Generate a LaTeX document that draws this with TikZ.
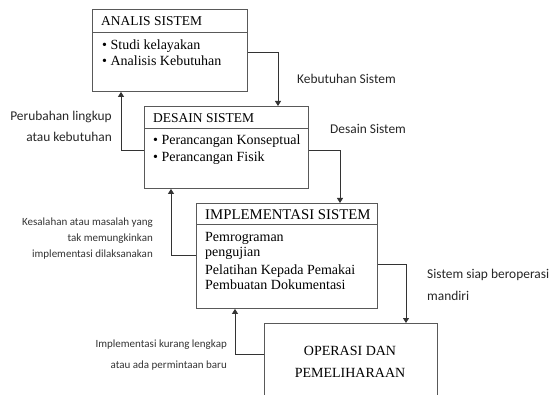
\documentclass[tikz,border=0pt]{standalone}
\usepackage{fontspec}
\setmainfont{Liberation Serif}
\newfontfamily\lblfont{Carlito}
\usetikzlibrary{arrows.meta}
\begin{document}
\begin{tikzpicture}[x=1pt,y=-1pt,
  box/.style={draw=black!65,line width=0.9pt,anchor=north west,inner sep=0pt},
  ttl/.style={anchor=base west,inner sep=0pt,font=\fontsize{13.5}{16}\selectfont},
  itm/.style={anchor=base west,inner sep=0pt,font=\fontsize{14}{16}\selectfont},
  lbl/.style={inner sep=0pt,font=\lblfont\fontsize{13.4}{21.5}\selectfont,text=black!85},
  slbl/.style={inner sep=0pt,font=\lblfont\fontsize{11}{16}\selectfont,text=black!80,align=right,anchor=base east},
  flow/.style={draw=black!80,line width=0.9pt,-{Triangle[width=6pt,length=5pt]}}]
\useasboundingbox (0,0) rectangle (551,395);
\clip (0,0) rectangle (551,395);
% boxes
\node[box,minimum width=155pt,minimum height=82pt] (b1) at (92,9) {};
\node[box,minimum width=164pt,minimum height=82pt] (b2) at (144,106) {};
\node[box,minimum width=181pt,minimum height=105pt] (b3) at (196,203) {};
\node[box,minimum width=173pt,minimum height=110pt] (b4) at (264,323) {};
% dividers
\coordinate (d1) at (0,32);
\coordinate (d2) at (0,128);
\coordinate (d3) at (0,224);
\draw[black!65,line width=0.9pt] (b1.west |- d1) -- (b1.east |- d1);
\draw[black!65,line width=0.9pt] (b2.west |- d2) -- (b2.east |- d2);
\draw[black!65,line width=0.9pt] (b3.west |- d3) -- (b3.east |- d3);
% box texts
\node[ttl] (t1) at (101,26) {ANALIS SISTEM};
\node[itm] (t1a) at (102,50) {\textbullet\ Studi kelayakan};
\node[itm] (t1b) at (102,66) {\textbullet\ Analisis Kebutuhan};
\node[ttl] (t2) at (153,123) {DESAIN SISTEM};
\node[itm] (t2a) at (153,145) {\textbullet\ Perancangan Konseptual};
\node[itm] (t2b) at (153,162) {\textbullet\ Perancangan Fisik};
\node[ttl,font=\fontsize{14.8}{16}\selectfont] (t3) at (205,220) {IMPLEMENTASI SISTEM};
\node[itm] (t3a) at (205,242) {Pemrograman};
\node[itm] (t3b) at (205,257) {pengujian};
\node[itm] (t3c) at (205,274) {Pelatihan Kepada Pemakai};
\node[itm] (t3d) at (205,289) {Pembuatan Dokumentasi};
\node[itm,anchor=base] (t4a) at (350,355) {OPERASI DAN};
\node[itm,anchor=base] (t4b) at (350,377) {PEMELIHARAAN};
% forward arrows
\coordinate (c1) at (278,52);
\coordinate (c2) at (340,150);
\coordinate (c3) at (406,264);
\draw[flow] (b1.east |- c1) -| (b2.north -| c1);
\draw[flow] (b2.east |- c2) -| (b3.north -| c2);
\draw[flow] (b3.east |- c3) -| (b4.north -| c3);
% feedback arrows
\coordinate (f1) at (121,150);
\coordinate (f2) at (171,255);
\coordinate (f3) at (235,354);
\draw[flow] (b2.west |- f1) -| (b1.south -| f1);
\draw[flow] (b3.west |- f2) -| (b2.south -| f2);
\draw[flow] (b4.west |- f3) -| (b3.south -| f3);
% labels (multi-line nodes: base = last line)
\node[lbl,anchor=base west] (l1) at (297,84) {Kebutuhan Sistem};
\node[lbl,anchor=base west] (l2) at (330,134) {Desain Sistem};
\node[lbl,anchor=base west,align=left] (l3) at (427,300) {Sistem siap beroperasi\\mandiri};
\node[lbl,anchor=base east,align=right] (l4) at (112,142) {Perubahan lingkup\\atau kebutuhan};
\node[slbl] (l5) at (153,258) {Kesalahan atau masalah yang\\tak memungkinkan\\implementasi dilaksanakan};
\node[slbl,font=\lblfont\fontsize{11}{21}\selectfont] (l6) at (227,368) {Implementasi kurang lengkap\\atau ada permintaan baru};
\end{tikzpicture}
\end{document}
